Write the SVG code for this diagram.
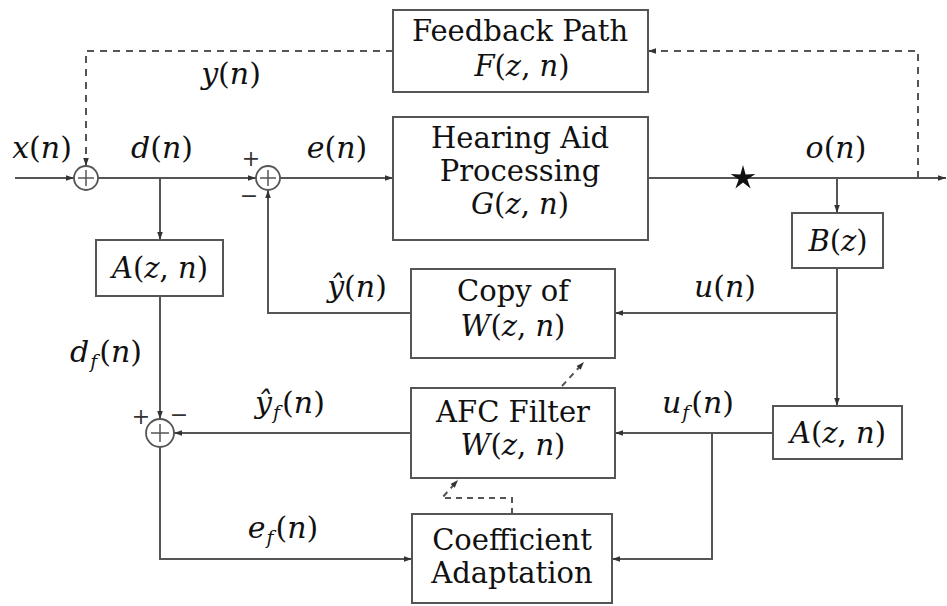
<svg xmlns="http://www.w3.org/2000/svg" width="947" height="606" viewBox="0 0 947 606">
<defs>
<marker id="ah" viewBox="0 0 10 10" refX="10" refY="5" markerWidth="8" markerHeight="8" orient="auto" markerUnits="userSpaceOnUse"><path d="M0,1.5 L10,5 L0,8.5 z" fill="#333"/></marker>
<style>
text{font-family:"DejaVu Serif","Liberation Serif",serif}
.box{fill:#fff;stroke:#555;stroke-width:2}
.ln{fill:none;stroke:#555;stroke-width:2}
.da{fill:none;stroke:#555;stroke-width:2;stroke-dasharray:7,6}
.sum{fill:#fff;stroke:#555;stroke-width:1.8}
.t{font-size:29px;fill:#111;text-anchor:middle}
.l{font-size:30px;fill:#111;text-anchor:middle}
.m{font-style:italic}
.s{font-size:19px;font-style:italic}
.sg{font-size:22px;fill:#333;text-anchor:middle}
</style>
</defs>
<rect width="947" height="606" fill="#fff"/>

<g id="connectors">
<line class="ln" x1="15" y1="178" x2="74" y2="178" marker-end="url(#ah)"/>
<polyline class="da" points="393,51 86,51 86,166" marker-end="url(#ah)"/>
<line class="ln" x1="98" y1="178" x2="256" y2="178" marker-end="url(#ah)"/>
<line class="ln" x1="160" y1="178" x2="160" y2="240" marker-end="url(#ah)"/>
<line class="ln" x1="280" y1="178" x2="393" y2="178" marker-end="url(#ah)"/>
<line class="ln" x1="648" y1="178" x2="946" y2="178" marker-end="url(#ah)"/>
<polyline class="da" points="918,178 918,51 648,51" marker-end="url(#ah)"/>
<line class="ln" x1="837" y1="178" x2="837" y2="213" marker-end="url(#ah)"/>
<line class="ln" x1="837" y1="268" x2="837" y2="406" marker-end="url(#ah)"/>
<line class="ln" x1="837" y1="313" x2="615" y2="313" marker-end="url(#ah)"/>
<polyline class="ln" points="411,313 268,313 268,190" marker-end="url(#ah)"/>
<line class="ln" x1="160" y1="296" x2="160" y2="419" marker-end="url(#ah)"/>
<line class="ln" x1="411" y1="433" x2="174" y2="433" marker-end="url(#ah)"/>
<line class="ln" x1="773" y1="433" x2="615" y2="433" marker-end="url(#ah)"/>
<polyline class="ln" points="712,433 712,559 612,559" marker-end="url(#ah)"/>
<polyline class="ln" points="160,447 160,559 412,559" marker-end="url(#ah)"/>
<polyline class="da" points="512,514 512,498 442,498 458,480" style="stroke-dasharray:6,5" marker-end="url(#ah)"/>
<line class="da" x1="562" y1="386" x2="584" y2="362" style="stroke-dasharray:6,5" marker-end="url(#ah)"/>
<polygon points="743,165 745.6,174.4 755.4,174 747.3,179.4 750.6,188.5 743,182.5 735.4,188.5 738.7,179.4 730.6,174 740.4,174.4" fill="#111"/>
</g>

<g id="sum1"><circle class="sum" cx="86" cy="178" r="12"/><path class="ln" d="M78,178 H94 M86,170 V186" style="stroke-width:1.5"/></g>
<g id="sum2"><circle class="sum" cx="268" cy="178" r="12"/><path class="ln" d="M260,178 H276 M268,170 V186" style="stroke-width:1.5"/>
<text class="sg" x="251" y="166">+</text><text class="sg" x="249" y="203">−</text></g>
<g id="sum3"><circle class="sum" cx="160" cy="433" r="14"/><path class="ln" d="M151,433 H169 M160,424 V442" style="stroke-width:1.5"/>
<text class="sg" x="141" y="424">+</text><text class="sg" x="179" y="422">−</text></g>

<g id="feedback"><rect class="box" x="393" y="10" width="255" height="82"/>
<text class="t" x="520" y="41">Feedback Path</text>
<text class="t" x="522" y="76"><tspan class="m">F</tspan>(<tspan class="m">z</tspan>, <tspan class="m">n</tspan>)</text></g>

<g id="hearing"><rect class="box" x="393" y="117" width="255" height="123"/>
<text class="t" x="520" y="148">Hearing Aid</text>
<text class="t" x="520" y="181">Processing</text>
<text class="t" x="520" y="214"><tspan class="m">G</tspan>(<tspan class="m">z</tspan>, <tspan class="m">n</tspan>)</text></g>

<g id="copy"><rect class="box" x="411" y="269" width="204" height="89"/>
<text class="t" x="513" y="301">Copy of</text>
<text class="t" x="513" y="336"><tspan class="m">W</tspan>(<tspan class="m">z</tspan>, <tspan class="m">n</tspan>)</text></g>

<g id="afc"><rect class="box" x="411" y="388" width="204" height="90"/>
<text class="t" x="513" y="422">AFC Filter</text>
<text class="t" x="513" y="455"><tspan class="m">W</tspan>(<tspan class="m">z</tspan>, <tspan class="m">n</tspan>)</text></g>

<g id="coef"><rect class="box" x="412" y="514" width="200" height="89"/>
<text class="t" x="512" y="550">Coefficient</text>
<text class="t" x="512" y="583">Adaptation</text></g>

<g id="a-left"><rect class="box" x="96" y="240" width="127" height="56"/>
<text class="t" x="160" y="278"><tspan class="m">A</tspan>(<tspan class="m">z</tspan>, <tspan class="m">n</tspan>)</text></g>

<g id="b"><rect class="box" x="792" y="213" width="91" height="55"/>
<text class="t" x="838" y="251"><tspan class="m">B</tspan>(<tspan class="m">z</tspan>)</text></g>

<g id="a-right"><rect class="box" x="773" y="406" width="129" height="53"/>
<text class="t" x="838" y="443"><tspan class="m">A</tspan>(<tspan class="m">z</tspan>, <tspan class="m">n</tspan>)</text></g>

<g id="labels">
<text class="l" x="42" y="158"><tspan class="m">x</tspan>(<tspan class="m">n</tspan>)</text>
<text class="l" x="162" y="158"><tspan class="m">d</tspan>(<tspan class="m">n</tspan>)</text>
<text class="l" x="337" y="158"><tspan class="m">e</tspan>(<tspan class="m">n</tspan>)</text>
<text class="l" x="231" y="84"><tspan class="m">y</tspan>(<tspan class="m">n</tspan>)</text>
<text class="l" x="836" y="158"><tspan class="m">o</tspan>(<tspan class="m">n</tspan>)</text>
<text class="l" x="357" y="297"><tspan class="m">ŷ</tspan>(<tspan class="m">n</tspan>)</text>
<text class="l" x="725" y="297"><tspan class="m">u</tspan>(<tspan class="m">n</tspan>)</text>
<text class="l" x="106" y="362"><tspan class="m">d</tspan><tspan class="s" dy="6" dx="1">f</tspan><tspan dy="-6" dx="2">(</tspan><tspan class="m">n</tspan>)</text>
<text class="l" x="290" y="413"><tspan class="m">ŷ</tspan><tspan class="s" dy="6" dx="1">f</tspan><tspan dy="-6" dx="2">(</tspan><tspan class="m">n</tspan>)</text>
<text class="l" x="698" y="413"><tspan class="m">u</tspan><tspan class="s" dy="6" dx="1">f</tspan><tspan dy="-6" dx="2">(</tspan><tspan class="m">n</tspan>)</text>
<text class="l" x="283" y="538"><tspan class="m">e</tspan><tspan class="s" dy="6" dx="1">f</tspan><tspan dy="-6" dx="2">(</tspan><tspan class="m">n</tspan>)</text>
</g>
</svg>
